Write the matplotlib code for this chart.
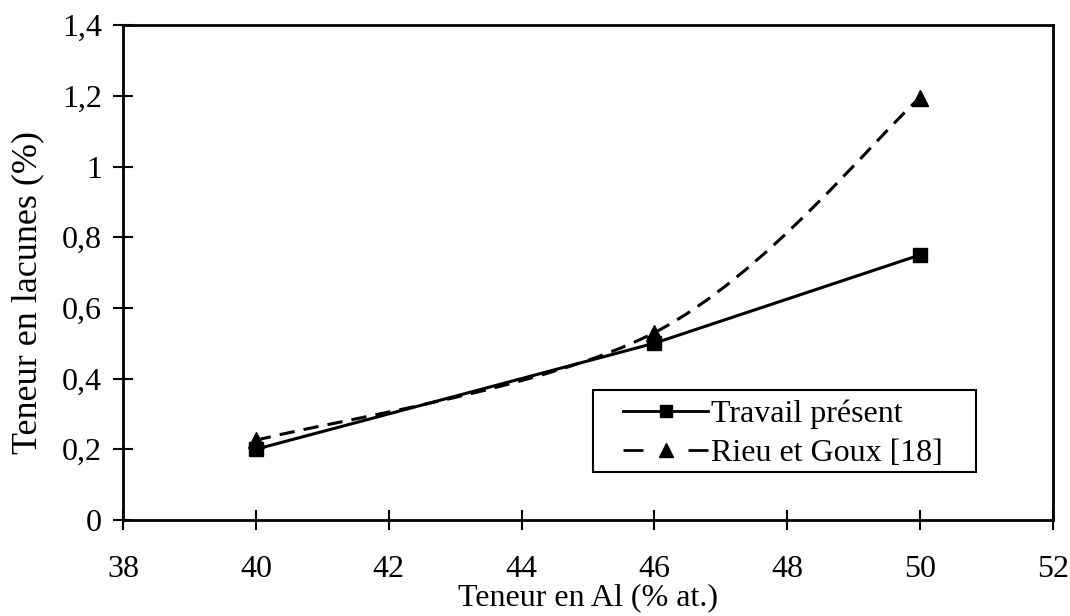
import matplotlib
matplotlib.use("Agg")
import matplotlib.pyplot as plt
from matplotlib.path import Path
from matplotlib.patches import PathPatch, Rectangle
from matplotlib.lines import Line2D
from matplotlib.ticker import FuncFormatter

plt.rcParams['font.family'] = ['Liberation Serif', 'DejaVu Serif']

# Data
al_content = [40, 46, 50]
travail_present = [0.20, 0.50, 0.75]
rieu_goux = [0.225, 0.53, 1.195]
x_ticks = [38, 40, 42, 44, 46, 48, 50, 52]
y_ticks = [0, 0.2, 0.4, 0.6, 0.8, 1.0, 1.2, 1.4]
labels = ['Travail présent', 'Rieu et Goux [18]']

FS = 23

fig = plt.figure(figsize=(10.7, 6.16), dpi=100)
ax = fig.add_axes([0.115, 0.156, 0.869, 0.803])

# Solid series
ax.plot(al_content, travail_present, color='black', lw=2.2, marker='s',
        markersize=10, zorder=3)


def smooth_path(xs, ys):
    # Excel-style smoothed line: cubic Bezier segments (Catmull-Rom tangents)
    pts = list(zip(xs, ys))
    n = len(pts)
    verts = [pts[0]]
    codes = [Path.MOVETO]
    for i in range(n - 1):
        p0 = pts[i - 1] if i > 0 else pts[i]
        p1 = pts[i]
        p2 = pts[i + 1]
        p3 = pts[i + 2] if i + 2 < n else pts[i + 1]
        c1 = (p1[0] + (p2[0] - p0[0]) / 6, p1[1] + (p2[1] - p0[1]) / 6)
        c2 = (p2[0] - (p3[0] - p1[0]) / 6, p2[1] - (p3[1] - p1[1]) / 6)
        verts += [c1, c2, p2]
        codes += [Path.CURVE4] * 3
    return Path(verts, codes)


patch = PathPatch(smooth_path(al_content, rieu_goux), facecolor='none',
                  edgecolor='black', lw=2.2, linestyle=(0, (5, 3)), zorder=3)
ax.add_patch(patch)
ax.plot(al_content, rieu_goux, color='black', linestyle='none', marker='^',
        markersize=11, zorder=4)

ax.set_xlim(38, 52)
ax.set_ylim(0, 1.4)
ax.set_xticks(x_ticks)
ax.set_yticks(y_ticks)
ax.yaxis.set_major_formatter(FuncFormatter(
    lambda v, p: ('%g' % round(v, 1)).replace('.', ',')))
ax.tick_params(direction='inout', length=14, width=1.5, labelsize=FS,
               color='black')
ax.tick_params(axis='x', pad=18)
ax.tick_params(axis='y', pad=8)
for s in ax.spines.values():
    s.set_linewidth(2)
    s.set_color('black')

ax.set_xlabel('Teneur en Al (% at.)', fontsize=FS, labelpad=0)
ax.set_ylabel('Teneur en lacunes (%)', fontsize=26)
ax.yaxis.set_label_coords(-0.085, 0.46)

# Legend box
ax.add_patch(Rectangle((0.505, 0.097), 0.412, 0.166, transform=ax.transAxes,
                       facecolor='white', edgecolor='black', lw=1.5,
                       zorder=5))
handles = [
    Line2D([], [], color='black', lw=2, marker='s', markersize=9),
    Line2D([], [], color='black', lw=2, linestyle=(0, (7.2, 16.2)),
           marker='^', markersize=10),
]
leg = ax.legend(handles, labels, loc='center left',
                bbox_to_anchor=(0.538, 0.174), fontsize=FS, frameon=False,
                handlelength=2.65, handletextpad=0.08, borderpad=0,
                labelspacing=0.3, borderaxespad=0)
leg.set_zorder(6)

fig.savefig('out.png', dpi=100)
